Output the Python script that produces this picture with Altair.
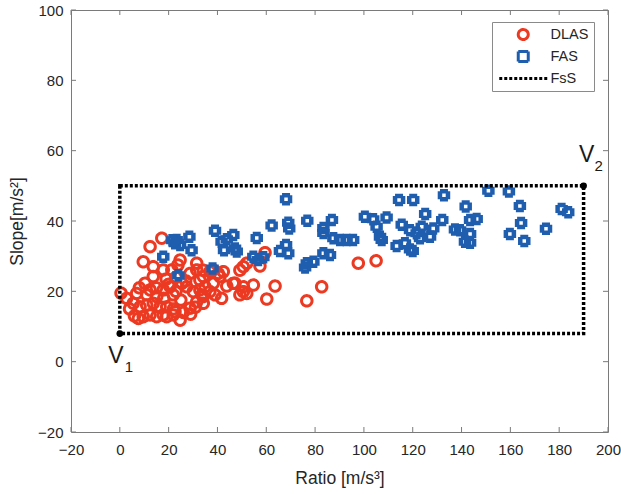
import altair as alt
import pandas as pd

# ---------------- data ----------------
dlas_x = [97.7, 105.0, 82.7, 76.6, 60.2, 63.6, 59.5, 57.4,
          50.6, 49.2, 52.0, 43.8, 46.5, 50.6, 49.2, 52.0, 39.0, 41.7, 36.9, 34.2,
          36.9, 40.3, 41.0, 32.8, 34.9, 38.3, 33.6, 34.2, 38.2, 42.4, 47.2, 54.7, 50.6,
          17.2, 12.4, 9.6, 13.7, 17.8, 24.7, 13.7, 10.3, 2.8, 6.9, 5.5, 0.5,
          12.4, 15.1, 17.8, 20.6, 21.9,
          8.3, 11.0, 13.7, 16.5, 19.2,
          7.6, 9.6, 12.4, 15.1, 17.8, 21.9,
          28.8, 31.5, 34.2, 27.4, 30.1, 32.8, 28.8, 31.5, 34.2,
          21.3, 25.4, 24.7, 19.2, 22.6,
          20.0, 23.0, 25.0, 22.0, 26.0, 18.0, 15.0, 11.0, 8.0, 4.0, 6.0, 29.0, 31.0,
          23.0, 19.0, 27.0, 23.8, 31.5]
dlas_y = [28.0, 28.7, 21.3, 17.3, 17.8, 21.5, 31.0, 27.2,
          27.0, 26.0, 28.0, 21.5, 22.3, 21.3, 19.0, 19.4, 19.0, 18.0, 19.9, 26.0,
          25.6, 25.1, 24.2, 23.2, 21.3, 22.3, 19.0, 16.6, 26.1, 25.6, 22.3, 21.8, 19.9,
          35.1, 32.7, 28.4, 27.0, 26.1, 28.9, 24.2, 22.3, 18.0, 19.4, 16.6, 19.5,
          20.4, 18.5, 20.4, 21.3, 19.0,
          15.6, 16.1, 16.6, 15.6, 15.6,
          12.3, 12.8, 13.3, 12.8, 13.3, 13.3,
          25.1, 26.1, 24.2, 21.3, 19.9, 20.4, 15.2, 17.0, 18.5,
          26.1, 22.3, 11.8, 12.8, 14.2,
          22.0, 20.0, 17.5, 15.0, 14.0, 18.0, 21.0, 19.0, 21.0, 15.0, 13.0, 13.5, 15.5,
          24.0, 23.5, 23.0, 27.5, 28.0]

fas_x = [151.0, 159.4, 163.9, 141.7, 181.0, 183.7, 143.5, 146.2, 164.4, 174.6,
         159.8, 143.5, 165.7, 141.4, 143.5, 139.4, 114.4, 120.2, 132.8, 125.1,
         132.1, 137.3, 86.9, 83.4, 83.4, 87.5, 90.2, 95.6, 92.9, 83.4,
         86.1, 100.4, 103.8, 109.3, 105.2, 106.6, 107.3, 115.5, 118.9, 121.6,
         123.7, 123.0, 127.1, 128.4, 113.4, 118.9, 120.0, 116.8, 68.1, 62.2,
         69.0, 69.4, 76.8, 39.0, 46.5, 43.8, 41.7, 42.7, 47.2, 47.9,
         56.1, 68.1, 65.6, 69.0, 54.7, 58.8, 56.7, 38.0, 76.6, 79.3,
         75.9, 23.3, 22.6, 24.7, 28.5, 29.4, 17.8, 24.0, 21.5]
fas_y = [48.6, 48.4, 44.3, 44.1, 43.4, 42.5, 40.3, 40.6, 39.4, 37.8,
         36.3, 36.3, 34.3, 34.1, 33.8, 37.4, 46.0, 46.0, 47.3, 42.0,
         40.3, 37.6, 40.3, 38.0, 36.6, 35.1, 34.6, 34.6, 34.6, 30.8,
         30.3, 41.2, 40.5, 41.0, 38.4, 35.5, 34.6, 38.9, 37.4, 36.5,
         38.4, 35.1, 35.5, 37.9, 32.9, 31.9, 31.5, 33.7, 46.2, 38.7,
         39.5, 37.9, 40.1, 37.2, 36.0, 34.8, 34.1, 31.7, 32.2, 31.3,
         35.2, 33.2, 31.5, 30.8, 29.8, 29.7, 28.9, 26.5, 28.0, 28.4,
         26.8, 34.6, 33.7, 33.2, 35.5, 31.7, 29.8, 24.6, 34.5]

series_names = ["DLAS", "FAS", "FsS"]
series_colors = ["#EC3A22", "#1F5EAF", "#000000"]
series_shapes = ["circle", "square", "M-4.8,0H4.8"]
series_dashes = [[1, 0], [1, 0], [3, 2]]

region_x = [0, 190]   # V1.x, V2.x
region_y = [8, 50]    # V1.y, V2.y
vertex_sub = ["1", "2"]

x_ticks = [-20, 0, 20, 40, 60, 80, 100, 120, 140, 160, 180, 200]
y_ticks = [-20, 0, 20, 40, 60, 80, 100]

# ---------------- layout ----------------
W, H = 537, 422
FONT = "Liberation Sans"
TXT = "#262626"
AXC = "#7a7a7a"

dlas = pd.DataFrame({"x": dlas_x, "y": dlas_y, "series": "DLAS"})
fas = pd.DataFrame({"x": fas_x, "y": fas_y, "series": "FAS"})
region = pd.DataFrame({"x": [region_x[0]], "x2": [region_x[1]],
                       "y": [region_y[0]], "y2": [region_y[1]]})
verts = pd.DataFrame({"x": region_x, "y": region_y, "sub": vertex_sub, "v": ["V", "V"]})
xt = pd.DataFrame({"t": x_ticks})
yt = pd.DataFrame({"t": y_ticks})

xs = alt.Scale(domain=[-20, 200], nice=False, zero=False)
ys = alt.Scale(domain=[-20, 100], nice=False, zero=False)

x_axis = alt.Axis(values=x_ticks, title="Ratio [m/s³]", tickSize=0, domain=False, grid=False,
                  labelPadding=10, labelFontSize=15, labelFont=FONT, labelColor=TXT,
                  titleFont=FONT, titleFontSize=17.5, titleFontWeight="normal", titleColor=TXT,
                  titlePadding=12, labelFlush=False)
y_axis = alt.Axis(values=y_ticks, title="Slope[m/s²]", tickSize=0, domain=False, grid=False,
                  labelPadding=8, labelFontSize=15, labelFont=FONT, labelColor=TXT,
                  titleFont=FONT, titleFontSize=17.5, titleFontWeight="normal", titleColor=TXT,
                  titlePadding=11, labelFlush=False)

legend = alt.Legend(title=None, orient="none", legendX=421, legendY=12,
                    strokeColor="#8a8a8a", fillColor="white", padding=5, rowPadding=6,
                    clipHeight=15, symbolSize=100, symbolStrokeWidth=3, symbolOffset=19,
                    labelOffset=20, labelFontSize=14.5, labelFont=FONT, labelColor=TXT,
                    cornerRadius=0)

color = alt.Color("series:N", scale=alt.Scale(domain=series_names, range=series_colors), legend=legend)
shape = alt.Shape("series:N", scale=alt.Scale(domain=series_names, range=series_shapes), legend=legend)
dash = alt.StrokeDash("series:N", scale=alt.Scale(domain=series_names, range=series_dashes), legend=legend)

X = alt.X("x:Q", scale=xs, axis=x_axis)
Y = alt.Y("y:Q", scale=ys, axis=y_axis)

dlas_layer = alt.Chart(dlas).mark_point(filled=False, size=110, strokeWidth=3, opacity=1).encode(
    x=X, y=Y, color=color, shape=shape, strokeDash=dash)
fas_layer = alt.Chart(fas).mark_point(filled=False, size=64, strokeWidth=4.5, opacity=1).encode(
    x=X, y=Y, color=color, shape=shape, strokeDash=dash)

rect_layer = alt.Chart(region).mark_rect(fill="transparent", stroke="black", strokeWidth=3.5,
                                         strokeDash=[3, 2]).encode(
    x=alt.X("x:Q", scale=xs), x2="x2", y=alt.Y("y:Q", scale=ys), y2="y2")

vert_dots = alt.Chart(verts).mark_circle(size=45, color="black", opacity=1).encode(
    x=alt.X("x:Q", scale=xs), y=alt.Y("y:Q", scale=ys))

v1 = verts.iloc[[0]]
v2 = verts.iloc[[1]]
v1_main = alt.Chart(v1).mark_text(font=FONT, fontSize=23, color="#1a1a1a", dx=-4, dy=22,
                                  baseline="middle", align="center").encode(
    x=alt.X("x:Q", scale=xs), y=alt.Y("y:Q", scale=ys), text="v:N")
v1_sub = alt.Chart(v1).mark_text(font=FONT, fontSize=15, color="#1a1a1a", dx=9, dy=33,
                                 baseline="middle", align="center").encode(
    x=alt.X("x:Q", scale=xs), y=alt.Y("y:Q", scale=ys), text="sub:N")
v2_main = alt.Chart(v2).mark_text(font=FONT, fontSize=23, color="#1a1a1a", dx=3, dy=-31,
                                  baseline="middle", align="center").encode(
    x=alt.X("x:Q", scale=xs), y=alt.Y("y:Q", scale=ys), text="v:N")
v2_sub = alt.Chart(v2).mark_text(font=FONT, fontSize=15, color="#1a1a1a", dx=15, dy=-20,
                                 baseline="middle", align="center").encode(
    x=alt.X("x:Q", scale=xs), y=alt.Y("y:Q", scale=ys), text="sub:N")

# inward ticks on all four sides (MATLAB box style)
tick_b = alt.Chart(xt).mark_rule(color=AXC, strokeWidth=1).encode(
    x=alt.X("t:Q", scale=xs), y=alt.value(H), y2=alt.value(H - 5))
tick_t = alt.Chart(xt).mark_rule(color=AXC, strokeWidth=1).encode(
    x=alt.X("t:Q", scale=xs), y=alt.value(0), y2=alt.value(5))
tick_l = alt.Chart(yt).mark_rule(color=AXC, strokeWidth=1).encode(
    y=alt.Y("t:Q", scale=ys), x=alt.value(0), x2=alt.value(5))
tick_r = alt.Chart(yt).mark_rule(color=AXC, strokeWidth=1).encode(
    y=alt.Y("t:Q", scale=ys), x=alt.value(W), x2=alt.value(W - 5))

chart = alt.layer(
    dlas_layer, fas_layer, rect_layer, vert_dots,
    v1_main, v1_sub, v2_main, v2_sub,
    tick_b, tick_t, tick_l, tick_r,
).properties(
    width=W, height=H,
    autosize=alt.AutoSizeParams(type="none"),
    padding={"left": 71, "top": 10, "right": 13, "bottom": 63},
    background="white",
).configure_view(stroke=AXC, strokeWidth=1)

chart.save("out.html", embed_options={"renderer": "svg", "actions": False})
